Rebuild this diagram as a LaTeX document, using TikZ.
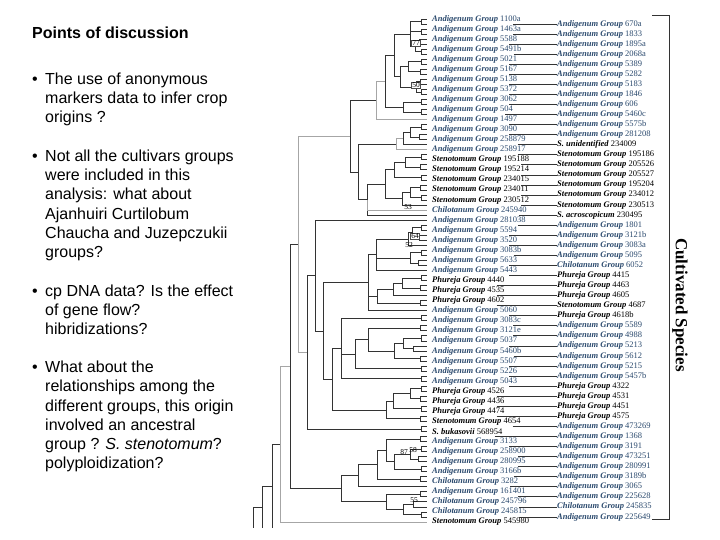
\documentclass[tikz,border=0pt]{standalone}
\usepackage{fontspec}
\setmainfont{Liberation Sans}
\newfontfamily\treefont{Liberation Serif}
\usetikzlibrary{calc}
\definecolor{andi}{HTML}{2B4A6E}
\newcommand\cld[5][br]{%
  \path let \p1=(#4), \p2=(#5) in coordinate (#2) at ({#3pt},{0.5*(\y1+\y2)});
  \draw[#1] (#2) |- (#4);
  \draw[#1] (#2) |- (#5);}
\begin{document}
\begin{tikzpicture}[x=1pt,y=-1pt,
  br/.style={draw=black!80, line width=0.8pt},
  gbr/.style={draw=black!35, line width=0.8pt},
  rl/.style={draw=black!80, line width=0.8pt},
  lab/.style={font=\treefont\fontsize{8.5}{9}\selectfont, inner sep=0pt, anchor=west},
  bs/.style={font=\treefont\fontsize{7.5}{8}\selectfont, inner sep=0.6pt, fill=white, draw=black!70, line width=0.4pt},
  bn/.style={font=\treefont\fontsize{7.5}{8}\selectfont, inner sep=0.6pt},
  txt/.style={font=\fontsize{16}{19}\selectfont, anchor=base west, inner sep=0pt}]
\useasboundingbox (0,0) rectangle (720,540);
\fill[white] (0,0) rectangle (720,540);

% ---------- left text ----------
\node[txt, font=\bfseries\fontsize{16}{19}\selectfont] (title) at (32,39) {Points of discussion};
\foreach \yy [count=\j] in {85,162,296,372.5}
  \node[txt] (bul\j) at (32,\yy) {\textbullet};
\foreach \yy/\tt [count=\j] in {
  85/{The use of anonymous},
  104/{markers data to infer crop},
  123/{origins ?},
  162/{Not all the cultivars groups},
  181/{were included in this},
  200/{analysis: what about},
  219/{Ajanhuiri Curtilobum},
  238.5/{Chaucha and Juzepczukii},
  257.5/{groups?},
  296/{cp DNA data? Is the effect},
  315/{of gene flow?},
  334/{hibridizations?},
  372.5/{What about the},
  391.5/{relationships among the},
  411/{different groups, this origin},
  430/{involved an ancestral},
  449.3/{group ? \textit{S. stenotomum}?},
  468.5/{polyploidization?}}
  \node[txt] (t\j) at (45,\yy) {\tt};

% ---------- leaves ----------
\foreach \k in {0,...,100}
  \coordinate (l\k) at (427,{19+5.03*\k});

% ---------- tree ----------
\cld{a1}{421}{l0}{l1}
\cld{a2}{421}{l2}{l3}
\cld{a3}{419}{l4}{l5}
\cld{a4}{421}{l6}{l7}
\cld{a34}{415}{a3}{a4}
\cld{A}{410}{a1}{a34} \draw[br] (A) |- (a2);
\cld{b1}{421}{l8}{l9}
\cld{b2}{420}{l10}{l11}
\cld{b12}{408}{b1}{b2}
\cld{b3}{420}{l12}{l13}
\cld{b4}{421}{l14}{l15}
\cld{b34}{416}{b3}{b4}
\cld{B}{400}{b12}{b34}
\cld{AB}{394}{A}{B}
\cld{c1}{421}{l16}{l17}
\cld{c2}{421}{l18}{l19}
\cld{C}{403}{c1}{c2}
\cld{ABC}{385}{AB}{C}
\cld[gbr]{ABCD}{376}{ABC}{l20}
\cld{F1}{421}{l21}{l22}
\cld{F2}{419}{l23}{l24}
\cld{F12}{410}{F1}{F2}
\cld{F}{403}{F12}{l25}
\cld[gbr]{G}{396}{F}{l26}
\cld{s1}{421}{l27}{l28}
\cld{s2}{420}{l29}{l30}
\cld{s12}{405}{s1}{s2}
\cld{s3}{421}{l31}{l32}
\cld{s123}{394}{s12}{s3}
\cld{s4}{420}{l33}{l34}
\cld{s5}{421}{l35}{l36}
\cld{s45}{410}{s4}{s5}
\cld{s6}{402}{s45}{l37}
\cld{S1}{385}{s123}{s6}
\cld{S}{367}{S1}{l39} \draw[gbr] (S) |- (l38);
\cld{N358}{358}{G}{S}
\cld{T1}{350}{ABCD}{N358}
\cld{u1}{421}{l41}{l42}
\cld{u2}{419}{l43}{l44}
\cld{u12}{412}{u1}{u2}
\cld{U1}{408}{u12}{l45}
\cld{u4}{421}{l46}{l47}
\cld{u5}{418}{l48}{l49}
\cld{u45}{410}{u4}{u5}
\cld{U2}{376}{U1}{l50} \draw[br] (U2) |- (u45);
\cld{P1}{421}{l51}{l52}
\cld{P2}{420}{l53}{l54}
\cld{P12}{402}{P1}{P2}
\cld{P3}{393}{P12}{l55}
\cld{p4}{420}{l56}{l57}
\cld{P}{377}{P3}{p4}
\cld{W}{368}{U2}{l58} \draw[br] (W) |- (P);
\cld{X1}{421}{l59}{l60}
\cld{x2}{420}{l61}{l62}
\cld{x3}{421}{l63}{l64}
\cld{x4}{413}{l65}{l66}
\cld{x34}{403}{x3}{x4}
\cld{x5}{420}{l67}{l68}
\cld{x345}{394}{x34}{x5}
\cld{X2}{368}{x2}{x345}
\cld{x6}{421}{l69}{l70}
\cld{X3}{355}{X2}{x6}
\cld{x7}{421}{l71}{l72}
\cld{X}{341}{X1}{x7} \draw[br] (X) |- (X3);
\cld{q1}{421}{l73}{l74}
\cld{q2}{420}{l75}{l76}
\cld{q12}{410}{q1}{q2}
\cld{q3}{421}{l77}{l78}
\cld{Q1}{393}{q12}{q3}
\cld{q4}{420}{l79}{l80}
\cld{Q}{386}{Q1}{q4}
\cld{N332}{332}{X}{Q}
\cld{N323}{323}{W}{N332}
\cld{N315}{315}{l40}{N323}
\cld{bk}{421}{l81}{l82}
\cld{N307}{307}{N315}{bk}
\cld[gbr]{N298}{298}{T1}{N307}
\cld{k1}{420}{l83}{l84}
\cld{y1}{421}{l85}{l86}
\cld{y2}{418}{l87}{l88}
\cld{y12}{410}{y1}{y2}
\cld{y3}{421}{l89}{l90}
\cld{Y1}{394}{y12}{y3}
\cld{Y2}{386}{k1}{Y1}
\cld{y4}{420}{l91}{l92}
\cld{Y3}{377}{Y2}{y4}
\cld{Y4}{358}{Y3}{l93}
\cld{z1}{420}{l94}{l95}
\cld{z2}{413}{l96}{l97}
\cld{z3}{421}{l98}{l99}
\cld{z23}{403}{z2}{z3}
\cld{Z}{386}{z1}{z23}
\cld{M}{341}{Y4}{Z}
\cld{N290}{290}{N298}{M}
\cld[gbr]{N280}{280}{N290}{l100}
\coordinate (e272) at (272,528);
\cld{N272}{272}{N280}{e272}
\coordinate (e262) at (262,528);
\cld{N262}{262}{N272}{e262}
\coordinate (e253) at (253,528);
\draw[br] (N262) -- (N262 -| e253) -- (e253);

% ---------- support values ----------
\node[bs] (n77) at (416,43) {77};
\node[bs] (n50) at (416,85) {50};
\node[bn] (n53) at (408,207) {53};
\node[bs] (n64) at (415,236) {64};
\node[bn] (n52) at (409,245) {52};
\node[bn] (n87) at (404,452) {87};
\node[bn] (n58) at (413,450) {58};
\node[bn] (n55) at (414,500) {55};

% ---------- left labels ----------
\foreach \nm/\num/\cc [count=\i] in {
 {Andigenum Group}/1100a/andi, {Andigenum Group}/1463a/andi, {Andigenum Group}/5588/andi,
 {Andigenum Group}/5491b/andi, {Andigenum Group}/5021/andi, {Andigenum Group}/5167/andi,
 {Andigenum Group}/5138/andi, {Andigenum Group}/5372/andi, {Andigenum Group}/3062/andi,
 {Andigenum Group}/504/andi, {Andigenum Group}/1497/andi, {Andigenum Group}/3090/andi,
 {Andigenum Group}/258879/andi, {Andigenum Group}/258917/andi,
 {Stenotomum Group}/195188/black, {Stenotomum Group}/195214/black, {Stenotomum Group}/234015/black,
 {Stenotomum Group}/234011/black, {Stenotomum Group}/230512/black,
 {Chilotanum Group}/245940/andi,
 {Andigenum Group}/281038/andi, {Andigenum Group}/5594/andi, {Andigenum Group}/3520/andi,
 {Andigenum Group}/3083b/andi, {Andigenum Group}/5633/andi, {Andigenum Group}/5443/andi,
 {Phureja Group}/4440/black, {Phureja Group}/4535/black, {Phureja Group}/4602/black,
 {Andigenum Group}/5060/andi, {Andigenum Group}/3083c/andi, {Andigenum Group}/3121e/andi,
 {Andigenum Group}/5037/andi, {Andigenum Group}/5460b/andi, {Andigenum Group}/5507/andi,
 {Andigenum Group}/5226/andi, {Andigenum Group}/5043/andi,
 {Phureja Group}/4526/black, {Phureja Group}/4436/black, {Phureja Group}/4474/black,
 {Stenotomum Group}/4654/black, {S. bukasovii}/568954/black,
 {Andigenum Group}/3133/andi, {Andigenum Group}/258900/andi, {Andigenum Group}/280995/andi,
 {Andigenum Group}/3166b/andi, {Chilotanum Group}/3282/andi, {Andigenum Group}/161401/andi,
 {Chilotanum Group}/245796/andi, {Chilotanum Group}/245815/andi,
 {Stenotomum Group}/545980/black}
 \node[lab, text=\cc] (L\i) at (432,{19+10.06*(\i-1)}) {\textbf{\textit{\nm}} \num};

% ---------- right labels ----------
\foreach \nm/\num/\cc [count=\i] in {
 {Andigenum Group}/670a/andi, {Andigenum Group}/1833/andi, {Andigenum Group}/1895a/andi,
 {Andigenum Group}/2068a/andi, {Andigenum Group}/5389/andi, {Andigenum Group}/5282/andi,
 {Andigenum Group}/5183/andi, {Andigenum Group}/1846/andi, {Andigenum Group}/606/andi,
 {Andigenum Group}/5460c/andi, {Andigenum Group}/5575b/andi, {Andigenum Group}/281208/andi,
 {S. unidentified}/234009/black,
 {Stenotomum Group}/195186/black, {Stenotomum Group}/205526/black, {Stenotomum Group}/205527/black,
 {Stenotomum Group}/195204/black, {Stenotomum Group}/234012/black, {Stenotomum Group}/230513/black,
 {S. acroscopicum}/230495/black,
 {Andigenum Group}/1801/andi, {Andigenum Group}/3121b/andi, {Andigenum Group}/3083a/andi,
 {Andigenum Group}/5095/andi, {Chilotanum Group}/6052/andi,
 {Phureja Group}/4415/black, {Phureja Group}/4463/black, {Phureja Group}/4605/black,
 {Stenotomum Group}/4687/black, {Phureja Group}/4618b/black,
 {Andigenum Group}/5589/andi, {Andigenum Group}/4988/andi, {Andigenum Group}/5213/andi,
 {Andigenum Group}/5612/andi, {Andigenum Group}/5215/andi, {Andigenum Group}/5457b/andi,
 {Phureja Group}/4322/black, {Phureja Group}/4531/black, {Phureja Group}/4451/black,
 {Phureja Group}/4575/black,
 {Andigenum Group}/473269/andi, {Andigenum Group}/1368/andi, {Andigenum Group}/3191/andi,
 {Andigenum Group}/473251/andi, {Andigenum Group}/280991/andi, {Andigenum Group}/3189b/andi,
 {Andigenum Group}/3065/andi, {Andigenum Group}/225628/andi, {Chilotanum Group}/245835/andi,
 {Andigenum Group}/225649/andi}
 \node[lab, text=\cc] (R\i) at (557,{24.03+10.06*(\i-1)}) {\textbf{\textit{\nm}} \num};

\foreach \i in {1,...,50}
  \draw[rl] ($(L\i.east |- R\i.west)+(-8,0)$) -- (R\i.west);

% ---------- bracket ----------
\coordinate (bt) at (652,15);
\coordinate (bc) at (669,15);
\coordinate (bb) at (652,519);
\draw[br] (bt) -- (bc) |- (bb);
\node[rotate=-90, font=\treefont\bfseries\fontsize{17}{17}\selectfont, inner sep=0pt] (cs) at (680,305) {Cultivated Species};
\end{tikzpicture}
\end{document}
